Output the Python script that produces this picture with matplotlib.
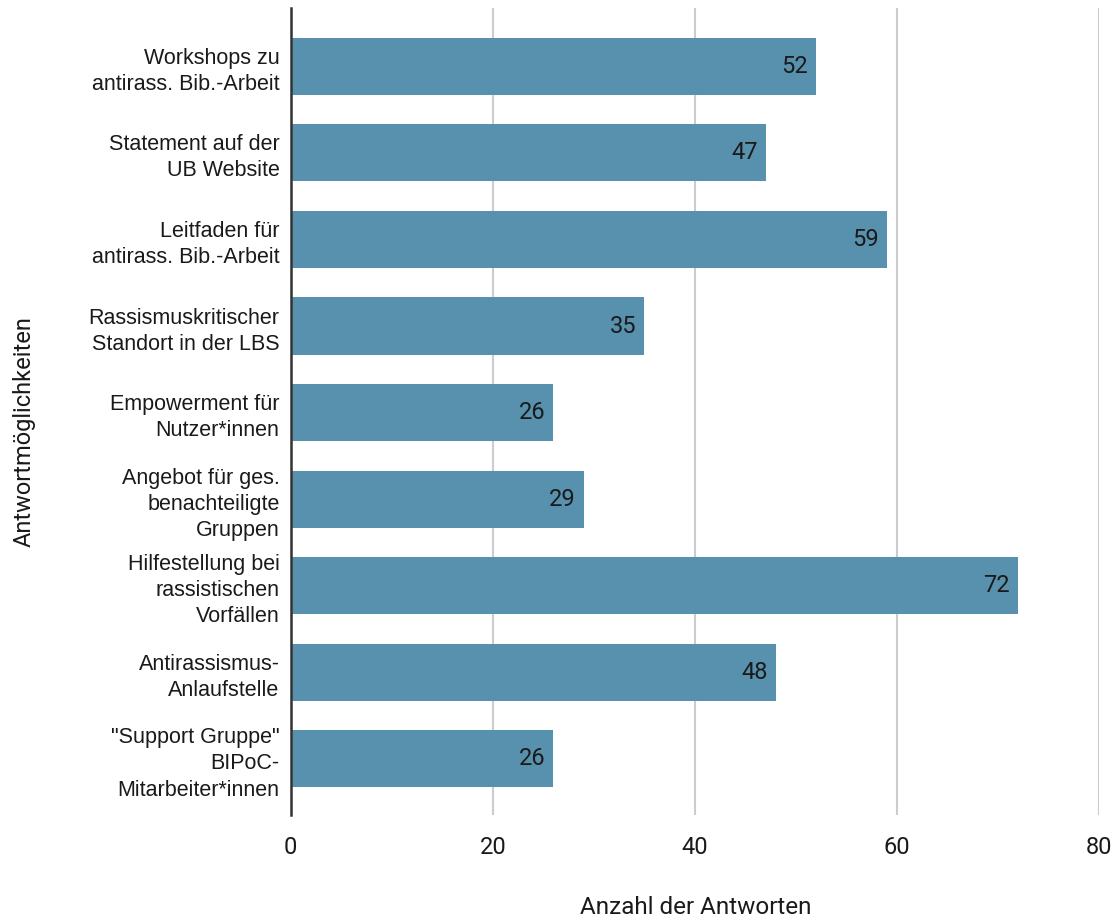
import matplotlib
matplotlib.use("Agg")
import matplotlib.pyplot as plt
from matplotlib.transforms import offset_copy

categories = [
    "Workshops zu\nantirass. Bib.-Arbeit",
    "Statement auf der\nUB Website",
    "Leitfaden für\nantirass. Bib.-Arbeit",
    "Rassismuskritischer\nStandort in der LBS",
    "Empowerment für\nNutzer*innen",
    "Angebot für ges.\nbenachteiligte\nGruppen",
    "Hilfestellung bei\nrassistischen\nVorfällen",
    "Antirassismus-\nAnlaufstelle",
    "\"Support Gruppe\"\nBIPoC-\nMitarbeiter*innen",
]
counts = [52, 47, 59, 35, 26, 29, 72, 48, 26]
xticks = [0, 20, 40, 60, 80]

bar_color = "#5891ad"
ink = "#1a1a1a"

fig = plt.figure(figsize=(11.18, 9.19), dpi=100)
ax = fig.add_axes([0.260, 0.113, 0.723, 0.878])

ypos = list(range(len(categories)))
ax.barh(ypos, counts, height=0.66, color=bar_color, zorder=3)

# value labels sit just inside the bar end
lbl_tr = offset_copy(ax.transData, fig=fig, x=-8, y=0, units="dots")
for y, v in zip(ypos, counts):
    ax.text(v, y, str(v), transform=lbl_tr, ha="right", va="center",
            fontsize=17, family="Roboto", color=ink, zorder=4)

ax.set_xlim(0, 80)
ax.set_ylim(len(categories) - 0.35, -0.67)
ax.set_xticks(xticks)
ax.set_xticklabels([str(t) for t in xticks], family="Roboto", fontsize=17, color=ink)
ax.set_yticks(ypos)
ax.set_yticklabels(categories, family="Liberation Sans", fontsize=15.5,
                   color=ink, linespacing=1.32)
ax.tick_params(axis="both", length=0)
ax.tick_params(axis="x", pad=15)
ax.tick_params(axis="y", pad=8)

ax.grid(axis="x", color="#cccccc", linewidth=1.5, zorder=0)
ax.grid(axis="y", visible=False)
for side in ["top", "right", "bottom"]:
    ax.spines[side].set_visible(False)
ax.spines["left"].set_color("#333333")
ax.spines["left"].set_linewidth(1.8)
ax.spines["left"].set_zorder(5)

fig.text(0.622, 0.0, "Anzahl der Antworten", ha="center", va="bottom",
         family="Roboto", fontsize=17.5, color=ink)
fig.text(0.022, 0.53, "Antwortmöglichkeiten", ha="center", va="center",
         rotation=90, family="Roboto", fontsize=17, color=ink)

fig.savefig("out.png", dpi=100)
